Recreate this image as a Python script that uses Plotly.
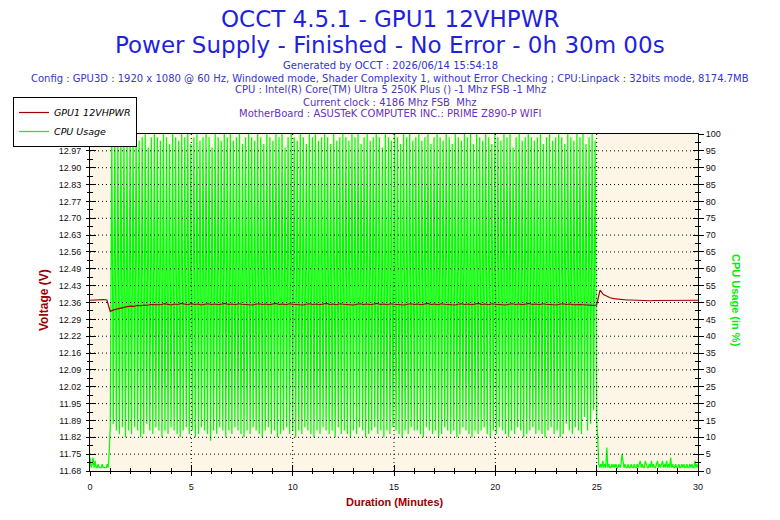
import numpy as np
import plotly.graph_objects as go

# ---------------- data ----------------
# CPU usage (%) while idle before the load, one sample every 3 s from 0 s
cpu_idle_start = [4, 1, 2, 4, 1, 3, 1, 1, 2, 1, 1, 1, 2, 1, 1, 1, 1, 2, 1, 6]

# CPU usage (%) under load (1 min .. 25 min): alternating troughs / peaks, 4.5 s apart, starting with a trough
cpu_troughs = [13,
    14, 12, 11, 13, 10, 12, 11, 13, 12, 10, 11, 14, 12, 11, 13, 12, 10, 12, 11, 13,
    12, 11, 10, 12, 13, 11, 12, 10, 11, 13, 12, 11, 9, 12, 11, 13, 12, 10, 12, 11,
    13, 12, 11, 10, 12, 11, 13, 12, 11, 10, 12, 13, 11, 12, 10, 11, 12, 13, 11, 12,
    10, 12, 11, 13, 12, 11, 10, 12, 11, 13, 12, 11, 12, 10, 13, 11, 12, 11, 10, 12,
    11, 13, 12, 10, 11, 12, 13, 11, 12, 10, 12, 11, 13, 12, 11, 10, 12, 11, 13, 12,
    12, 11, 10, 13, 12, 11, 12, 10, 11, 13, 12, 11, 12, 10, 11, 13, 12, 11, 10, 12,
    11, 12, 13, 11, 10, 12, 11, 13, 12, 11, 10, 12, 11, 13, 12, 10, 11, 12, 13, 11,
    12, 11, 10, 12, 13, 11, 12, 10, 11, 14, 12, 11, 13, 12, 11, 16, 12, 14, 18, 15]
cpu_peaks = [
    99, 100, 98, 100, 99, 97, 100, 99, 100, 98, 99, 100, 96, 99, 100, 99, 98, 100, 99, 97,
    100, 99, 98, 100, 99, 100, 97, 99, 100, 98, 99, 100, 99, 96, 100, 99, 98, 100, 99, 100,
    98, 99, 100, 97, 99, 100, 99, 98, 100, 99, 97, 100, 99, 98, 100, 99, 100, 96, 99, 100,
    99, 98, 100, 99, 97, 100, 99, 100, 98, 99, 100, 99, 97, 100, 98, 99, 100, 99, 98, 100,
    99, 100, 97, 99, 100, 98, 99, 100, 99, 96, 100, 99, 98, 100, 99, 97, 100, 99, 100, 98,
    99, 100, 98, 99, 100, 97, 99, 100, 99, 98, 100, 99, 97, 100, 99, 98, 100, 99, 100, 97,
    100, 99, 98, 100, 99, 97, 100, 99, 98, 100, 99, 100, 96, 99, 100, 98, 99, 100, 99, 98,
    99, 100, 97, 99, 100, 98, 99, 100, 99, 97, 100, 99, 98, 100, 99, 100, 97, 99, 100, 98]

# CPU usage (%) after the load, one sample every 3 s from 1503 s
cpu_idle_end = [
    10, 2, 1, 2, 1, 3, 1, 2, 1, 7, 1, 2, 1, 1, 2, 1, 2, 1, 2, 1,
    1, 2, 1, 2, 5, 2, 1, 2, 1, 1, 2, 1, 1, 2, 1, 1, 2, 1, 1, 2,
    1, 2, 3, 1, 2, 1, 1, 3, 2, 1, 1, 2, 1, 3, 1, 2, 1, 1, 2, 3,
    1, 2, 1, 2, 3, 1, 2, 1, 3, 1, 2, 1, 4, 1, 2, 1, 1, 2, 1, 1,
    2, 1, 1, 2, 1, 2, 1, 1, 2, 1, 1, 2, 1, 2, 1, 1, 3, 1, 2, 1]

# GPU1 12VHPWR voltage (V), one sample every 10 s from 0 s to 1800 s
voltage_v = [
    12.369, 12.370, 12.370, 12.371, 12.372, 12.370,
    12.324, 12.330, 12.334, 12.338, 12.340, 12.343, 12.345, 12.344, 12.348, 12.347, 12.350, 12.349, 12.352,
    12.352, 12.354, 12.351, 12.355, 12.353, 12.350, 12.354, 12.352, 12.356, 12.353,
    12.351, 12.355, 12.352, 12.354, 12.350, 12.353, 12.355, 12.352, 12.354, 12.351,
    12.353, 12.356, 12.352, 12.354, 12.351, 12.355, 12.353, 12.352, 12.354, 12.350,
    12.353, 12.355, 12.352, 12.354, 12.351, 12.353, 12.356, 12.352, 12.354, 12.351,
    12.355, 12.353, 12.352, 12.354, 12.350, 12.353, 12.355, 12.352, 12.354, 12.351,
    12.353, 12.356, 12.352, 12.354, 12.351, 12.355, 12.353, 12.352, 12.354, 12.350,
    12.353, 12.355, 12.352, 12.354, 12.351, 12.353, 12.356, 12.352, 12.354, 12.351,
    12.355, 12.353, 12.352, 12.354, 12.350, 12.353, 12.355, 12.352, 12.354, 12.351,
    12.353, 12.356, 12.352, 12.354, 12.351, 12.355, 12.353, 12.352, 12.354, 12.350,
    12.353, 12.355, 12.352, 12.354, 12.351, 12.353, 12.356, 12.352, 12.354, 12.351,
    12.355, 12.353, 12.352, 12.354, 12.350, 12.353, 12.355, 12.352, 12.354, 12.351,
    12.353, 12.356, 12.352, 12.354, 12.351, 12.355, 12.353, 12.352, 12.354, 12.350,
    12.353, 12.355, 12.352, 12.354, 12.351, 12.353, 12.352, 12.351, 12.350, 12.349, 12.348,
    12.350, 12.410,
    12.392, 12.384, 12.379, 12.376, 12.374, 12.372, 12.371, 12.370, 12.370, 12.369,
    12.369, 12.368, 12.368, 12.368, 12.367, 12.368, 12.368, 12.369, 12.369, 12.369,
    12.370, 12.370, 12.371, 12.370, 12.370, 12.369, 12.370, 12.370, 12.369]

# axis ticks
x_ticks = [0, 5, 10, 15, 20, 25, 30]
volt_tick_labels = ["11.68", "11.75", "11.82", "11.89", "11.95", "12.02", "12.09", "12.16",
                    "12.22", "12.29", "12.36", "12.43", "12.49", "12.56", "12.63", "12.70",
                    "12.77", "12.83", "12.90", "12.97", "13.04"]
VOLT_MIN, VOLT_MAX = 11.68, 13.04

# sampling (seconds)
IDLE_STEP = 3
ACTIVE_START, ACTIVE_STEP = 60, 4.5
IDLE_END_START = 1503
VOLT_STEP = 10

# ---------------- build series ----------------
t_idle1 = np.arange(len(cpu_idle_start)) * IDLE_STEP
active_vals = []
for i, tr in enumerate(cpu_troughs):
    active_vals.append(tr)
    if i < len(cpu_peaks):
        active_vals.append(cpu_peaks[i])
t_active = ACTIVE_START + np.arange(len(active_vals)) * ACTIVE_STEP
t_idle2 = IDLE_END_START + np.arange(len(cpu_idle_end)) * IDLE_STEP

cpu_t = np.concatenate([t_idle1, t_active, t_idle2]) / 60.0
cpu_v = list(cpu_idle_start) + active_vals + list(cpu_idle_end)
volt_t = np.arange(len(voltage_v)) * VOLT_STEP / 60.0

TICKF = dict(family="Liberation Sans, Arial, sans-serif", size=9, color="#111")

fig = go.Figure()
fig.add_trace(go.Scatter(x=volt_t, y=voltage_v, mode="lines", name="GPU1 12VHPWR",
                         line=dict(color="#a00000", width=1.2), yaxis="y2", xaxis="x"))
fig.add_trace(go.Scatter(x=cpu_t, y=cpu_v, mode="lines", name="CPU Usage",
                         line=dict(color="#00ff00", width=1.25), yaxis="y", xaxis="x"))
# helper traces so the inside-tick overlay axes are drawn
fig.add_trace(go.Scatter(x=[None], y=[None], xaxis="x2", yaxis="y3", showlegend=False, hoverinfo="skip"))
fig.add_trace(go.Scatter(x=[None], y=[None], xaxis="x2", yaxis="y4", showlegend=False, hoverinfo="skip"))

volt_tickvals = list(np.linspace(VOLT_MIN, VOLT_MAX, len(volt_tick_labels)))

fig.update_layout(
    width=780, height=520,
    margin=dict(l=90, r=82, t=134, b=49),
    paper_bgcolor="white", plot_bgcolor="#fdf5e6",
    font=dict(family="DejaVu Sans, sans-serif", size=10, color="black"),
    showlegend=True,
    legend=dict(x=(13 - 90) / 608, y=(471 - 97) / 337, xanchor="left", yanchor="top",
                bgcolor="white", bordercolor="black", borderwidth=1,
                font=dict(family="DejaVu Sans", size=9.5, style="italic", color="black"),
                itemwidth=30, tracegroupgap=0),
    xaxis=dict(range=[0, 30], tickmode="array", tickvals=x_ticks, ticks="outside", ticklen=4,
               tickcolor="black", showline=True, linecolor="black", linewidth=1, mirror=True,
               showgrid=False, zeroline=False, tickfont=TICKF, ticklabelstandoff=3,
               minor=dict(ticks="outside", dtick=1, tick0=0, ticklen=2, tickcolor="black", showgrid=False)),
    xaxis2=dict(range=[0, 30], overlaying="x", tickmode="array", tickvals=x_ticks, ticks="inside",
                ticklen=6, tickcolor="black", showticklabels=False, showline=False, showgrid=False,
                zeroline=False,
                minor=dict(ticks="inside", dtick=1, tick0=0, ticklen=3, tickcolor="black", showgrid=False)),
    yaxis=dict(range=[0, 100], side="right", tickmode="linear", tick0=0, dtick=5, ticks="outside",
               ticklen=5, tickcolor="black", showline=True, linecolor="black", linewidth=1,
               showgrid=False, zeroline=False, tickfont=TICKF,
               minor=dict(ticks="outside", dtick=2.5, tick0=0, ticklen=2, tickcolor="black", showgrid=False)),
    yaxis2=dict(range=[VOLT_MIN, VOLT_MAX], overlaying="y", side="left", tickmode="array",
                tickvals=volt_tickvals, ticktext=volt_tick_labels, ticks="outside", ticklen=3,
                tickcolor="black", showline=True, linecolor="black", linewidth=1, showgrid=False,
                zeroline=False, tickfont=TICKF, ticklabelstandoff=3,
                minor=dict(ticks="outside", tick0=VOLT_MIN, dtick=(VOLT_MAX - VOLT_MIN) / 40,
                           ticklen=2, tickcolor="black", showgrid=False)),
    yaxis3=dict(range=[0, 100], overlaying="y", side="right", tickmode="linear", tick0=0, dtick=5,
                ticks="inside", ticklen=5, tickcolor="black", showticklabels=False, showline=False,
                showgrid=False, zeroline=False,
                minor=dict(ticks="inside", dtick=2.5, tick0=0, ticklen=3, tickcolor="black", showgrid=False)),
    yaxis4=dict(range=[VOLT_MIN, VOLT_MAX], overlaying="y", side="left", tickmode="array",
                tickvals=volt_tickvals, ticks="inside", ticklen=6, tickcolor="black",
                showticklabels=False, showline=False, showgrid=False, zeroline=False,
                minor=dict(ticks="inside", tick0=VOLT_MIN, dtick=(VOLT_MAX - VOLT_MIN) / 40,
                           ticklen=3, tickcolor="black", showgrid=False)),
)

# dotted grid drawn above the traces, at the major tick positions
GRID = dict(color="black", width=1, dash="1px,3px")
for v in range(5, 100, 5):
    fig.add_shape(type="line", xref="x domain", yref="y", x0=0, x1=1, y0=v, y1=v,
                  line=GRID, layer="above")
for xv in x_ticks[1:-1]:
    fig.add_shape(type="line", xref="x", yref="y domain", x0=xv, x1=xv, y0=0, y1=1,
                  line=GRID, layer="above")

# header texts
def py(px):
    return (471 - px) / 337

cx = (390 - 90) / 608
header = [
    ("OCCT 4.5.1 - GPU1 12VHPWR", 19, 23, "#1f1fe0"),
    ("Power Supply - Finished - No Error - 0h 30m 00s", 45, 23, "#1f1fe0"),
    ("Generated by OCCT : 2026/06/14 15:54:18", 66, 10, "#3333cc"),
    ("Config : GPU3D : 1920 x 1080 @ 60 Hz, Windowed mode, Shader Complexity 1, without Error Checking ; CPU:Linpack : 32bits mode, 8174.7MB", 78, 10, "#3535d0"),
    ("CPU : Intel(R) Core(TM) Ultra 5 250K Plus () -1 Mhz FSB -1 Mhz", 90, 10, "#4435c8"),
    ("Current clock : 4186 Mhz FSB \u00a0Mhz", 102, 10, "#5a32c0"),
    ("MotherBoard : ASUSTeK COMPUTER INC.: PRIME Z890-P WIFI", 114, 10, "#6a30c0"),
]
for text, ypx, size, color in header:
    fig.add_annotation(text=text, xref="paper", yref="paper", x=cx, y=py(ypx),
                       xanchor="center", yanchor="middle", showarrow=False,
                       font=dict(family="DejaVu Sans, sans-serif", size=size, color=color))

# axis titles
fig.add_annotation(text="<b>Voltage (V)</b>", xref="paper", yref="paper", x=(44 - 90) / 608, y=py(300),
                   textangle=-90, showarrow=False, xanchor="center", yanchor="middle",
                   font=dict(family="Liberation Sans, Arial", size=12, color="#990000"))
fig.add_annotation(text="<b>CPU Usage (in %)</b>", xref="paper", yref="paper", x=(736 - 90) / 608, y=py(300),
                   textangle=90, showarrow=False, xanchor="center", yanchor="middle",
                   font=dict(family="Liberation Sans, Arial", size=11, color="#00ee00"))
fig.add_annotation(text="<b>Duration (Minutes)</b>", xref="paper", yref="paper", x=(394 - 90) / 608, y=py(502),
                   showarrow=False, xanchor="center", yanchor="middle",
                   font=dict(family="Liberation Sans, Arial", size=11, color="#990000"))

fig.write_html("out.html")
